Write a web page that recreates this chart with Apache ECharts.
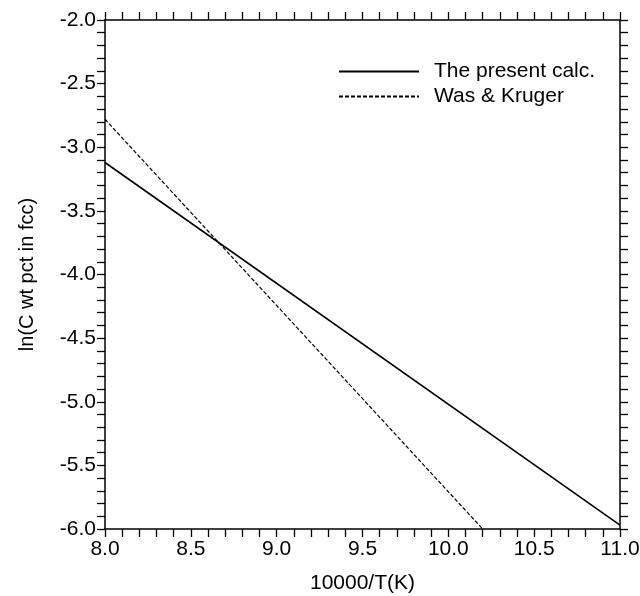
<!DOCTYPE html>
<html><head><meta charset="utf-8">
<script src="https://cdn.jsdelivr.net/npm/echarts@6/dist/echarts.min.js"></script>
<style>html,body{margin:0;padding:0;background:#fff}#c{width:640px;height:596px}</style>
</head><body><div id="c"></div>
<script>
const seriesNames = ['The present calc.', 'Was & Kruger'];
const presentCalc = [[8.0, -3.12], [11.0, -5.97]];
const wasKruger = [[8.0, -2.78], [10.2, -6.0]];
const xTicks = [8.0, 8.5, 9.0, 9.5, 10.0, 10.5, 11.0];
const yTicks = [-2.0, -2.5, -3.0, -3.5, -4.0, -4.5, -5.0, -5.5, -6.0];

const font = 'Liberation Sans, Arial, sans-serif';
const axisCommon = {
  axisLine: {show: true, onZero: false, lineStyle: {color: '#000', width: 1.5}},
  axisTick: {show: true, inside: false, length: 8, lineStyle: {color: '#000', width: 1.3}},
  minorTick: {show: true, splitNumber: 5, length: 8, lineStyle: {color: '#000', width: 1.3}},
  splitLine: {show: false}
};
const chart = echarts.init(document.getElementById('c'));
chart.setOption({
  animation: false,
  backgroundColor: '#fff',
  grid: {left: 105, right: 20, top: 20, bottom: 67, containLabel: false, outerBoundsMode: 'none'},
  legend: {
    orient: 'vertical', left: 333, top: 56,
    itemWidth: 80, itemHeight: 14, itemGap: 4,
    itemStyle: {opacity: 0},
    textStyle: {fontFamily: font, fontSize: 21, color: '#000', padding: [0, 0, 0, 10]},
    data: seriesNames
  },
  xAxis: [
    Object.assign({type: 'value', min: xTicks[0], max: xTicks[xTicks.length - 1], interval: 0.5, position: 'bottom',
      name: '10000/T(K)', nameLocation: 'middle', nameGap: 44,
      nameTextStyle: {fontFamily: font, fontSize: 21, color: '#000'},
      axisLabel: {fontFamily: font, fontSize: 21, color: '#000', margin: 10, formatter: v => v.toFixed(1)}}, axisCommon),
    Object.assign({type: 'value', min: xTicks[0], max: xTicks[xTicks.length - 1], interval: 0.5, position: 'top',
      axisLabel: {show: false}}, axisCommon)
  ],
  yAxis: [
    Object.assign({type: 'value', min: yTicks[yTicks.length - 1], max: yTicks[0], interval: 0.5, position: 'left',
      name: 'ln(C wt pct in fcc)', nameLocation: 'middle', nameGap: 68, nameRotate: 90,
      nameTextStyle: {fontFamily: font, fontSize: 20, color: '#000'},
      axisLabel: {fontFamily: font, fontSize: 21, color: '#000', margin: 9, formatter: v => v.toFixed(1)}}, axisCommon),
    Object.assign({type: 'value', min: yTicks[yTicks.length - 1], max: yTicks[0], interval: 0.5, position: 'right',
      axisLabel: {show: false}}, axisCommon)
  ],
  series: [
    {name: seriesNames[0], type: 'line', data: presentCalc, showSymbol: false, symbol: 'none',
      lineStyle: {color: '#000', width: 1.6, type: 'solid'}, itemStyle: {color: '#000'}},
    {name: seriesNames[1], type: 'line', data: wasKruger, showSymbol: false, symbol: 'none',
      lineStyle: {color: '#000', width: 1.2, type: [4, 2]}, itemStyle: {color: '#000'}}
  ]
});
</script></body></html>
